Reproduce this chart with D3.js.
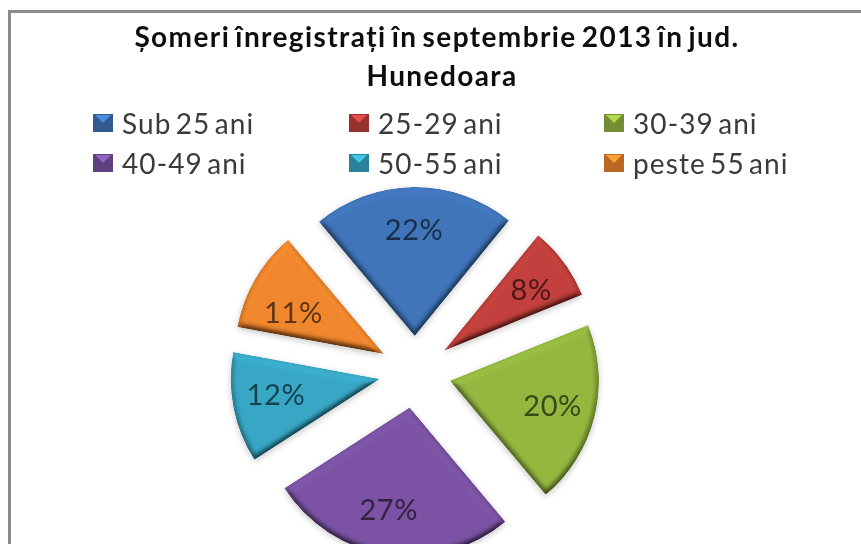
<!DOCTYPE html>
<html>
<head>
<meta charset="utf-8">
<script src="https://cdn.jsdelivr.net/npm/d3@7"></script>
<style>
  html, body { margin: 0; padding: 0; background: #fff; }
  svg { display: block; font-family: Lato, "Open Sans", sans-serif; }
</style>
</head>
<body>
<svg id="chart" width="861" height="544"></svg>
<script>
const titleLines = ['Șomeri înregistrați în septembrie 2013 în jud.', 'Hunedoara'];
const categories = ['Sub 25 ani', '25-29 ani', '30-39 ani', '40-49 ani', '50-55 ani', 'peste 55 ani'];
const percents = [22, 8, 20, 27, 12, 11];
const colors = ['#3f74b8', '#c0403c', '#93b63f', '#7a53a3', '#38a6c4', '#ee862d'];

const width = 861, height = 544;
const cx = 415, cy = 372;
const radius = 149, explode = 36;
const startDeg = -40;
// the office chart places its labels by best fit, so nudge them off the centroid
const labelNudge = [[0, 0], [2, 2], [0, 0], [-5, -2], [0, -5], [1, 12]];

const svg = d3.select('#chart');
const defs = svg.append('defs');

// soft shadow plus bevelled edge
const bevel = defs.append('filter').attr('id', 'bevel')
  .attr('x', '-15%').attr('y', '-15%').attr('width', '130%').attr('height', '130%');
bevel.append('feGaussianBlur').attr('in', 'SourceAlpha').attr('stdDeviation', 3).attr('result', 'blur');
const light = bevel.append('feDiffuseLighting').attr('in', 'blur')
  .attr('surfaceScale', 6).attr('diffuseConstant', 1.05)
  .attr('lighting-color', '#fff').attr('result', 'lit');
light.append('feDistantLight').attr('azimuth', 265).attr('elevation', 62);
bevel.append('feComposite').attr('in', 'SourceGraphic').attr('in2', 'lit')
  .attr('operator', 'arithmetic').attr('k1', 1.1).attr('k2', 0).attr('k3', 0).attr('k4', 0)
  .attr('result', 'shaded');
bevel.append('feComposite').attr('in', 'shaded').attr('in2', 'SourceAlpha')
  .attr('operator', 'in').attr('result', 'clipped');
bevel.append('feGaussianBlur').attr('in', 'SourceAlpha').attr('stdDeviation', 3).attr('result', 'sb');
bevel.append('feOffset').attr('in', 'sb').attr('dy', 2).attr('result', 'so');
bevel.append('feComponentTransfer').attr('in', 'so').attr('result', 'shadow')
  .append('feFuncA').attr('type', 'linear').attr('slope', 0.22);
const merge = bevel.append('feMerge');
merge.append('feMergeNode').attr('in', 'shadow');
merge.append('feMergeNode').attr('in', 'clipped');

defs.append('filter').attr('id', 'soft').append('feGaussianBlur').attr('stdDeviation', 0.45);

// frame, open at the right and bottom of the crop
svg.append('path')
  .attr('d', `M9.5,${height} V11.5 H${width}`)
  .attr('fill', 'none').attr('stroke', '#8c8c8c').attr('stroke-width', 3);

const pie = d3.pie().sort(null)
  .startAngle(startDeg * Math.PI / 180)
  .endAngle((startDeg + 360) * Math.PI / 180);
const arc = d3.arc().innerRadius(0).outerRadius(radius);
const labelArc = d3.arc().innerRadius(radius * 0.71).outerRadius(radius * 0.71);

const slices = svg.append('g').attr('transform', `translate(${cx},${cy})`)
  .selectAll('g').data(pie(percents)).join('g')
  .attr('transform', d => {
    const m = (d.startAngle + d.endAngle) / 2;
    return `translate(${explode * Math.sin(m)},${-explode * Math.cos(m)})`;
  });

slices.append('path')
  .attr('d', arc)
  .attr('fill', (d, i) => colors[i])
  .attr('filter', 'url(#bevel)');

slices.append('text')
  .attr('transform', (d, i) => {
    const [x, y] = labelArc.centroid(d);
    return `translate(${x + labelNudge[i][0]},${y + labelNudge[i][1]})`;
  })
  .attr('text-anchor', 'middle')
  .attr('dy', '0.35em')
  .attr('font-size', 29)
  .attr('letter-spacing', 0.6)
  .attr('fill', (d, i) => d3.color(colors[i]).darker(2.6))
  .attr('filter', 'url(#soft)')
  .text(d => d.value + '%');

// negative word spacing pushes the long line right, hence the different x
svg.append('g').attr('filter', 'url(#soft)')
  .selectAll('text').data(titleLines).join('text')
  .attr('x', (d, i) => i ? 442 : 437)
  .attr('y', (d, i) => 47 + i * 39)
  .attr('text-anchor', 'middle')
  .attr('font-size', 28)
  .attr('font-weight', 700)
  .attr('letter-spacing', 1.4)
  .attr('word-spacing', -3)
  .attr('fill', '#111')
  .text(d => d);

const legendX = d3.scaleOrdinal().domain([0, 1, 2]).range([93, 349, 604]);
const legendY = d3.scaleOrdinal().domain([0, 1]).range([124, 164]);

const legend = svg.append('g').selectAll('g').data(categories).join('g')
  .attr('transform', (d, i) => `translate(${legendX(i % 3)},${legendY(Math.floor(i / 3))})`);

legend.append('rect')
  .attr('x', 0).attr('y', -10).attr('width', 20).attr('height', 18)
  .attr('fill', (d, i) => d3.color(colors[i]).darker(0.7))
  .attr('filter', 'url(#soft)');

legend.append('path')
  .attr('d', 'M2,-9 H18 L10,-1 Z')
  .attr('fill', (d, i) => d3.color(colors[i]).brighter(0.5))
  .attr('filter', 'url(#soft)');

legend.append('text')
  .attr('x', 29).attr('y', 10)
  .attr('font-size', 28)
  .attr('letter-spacing', 1.1)
  .attr('word-spacing', -4)
  .attr('fill', '#3a3a3a')
  .attr('filter', 'url(#soft)')
  .text(d => d);
</script>
</body>
</html>
